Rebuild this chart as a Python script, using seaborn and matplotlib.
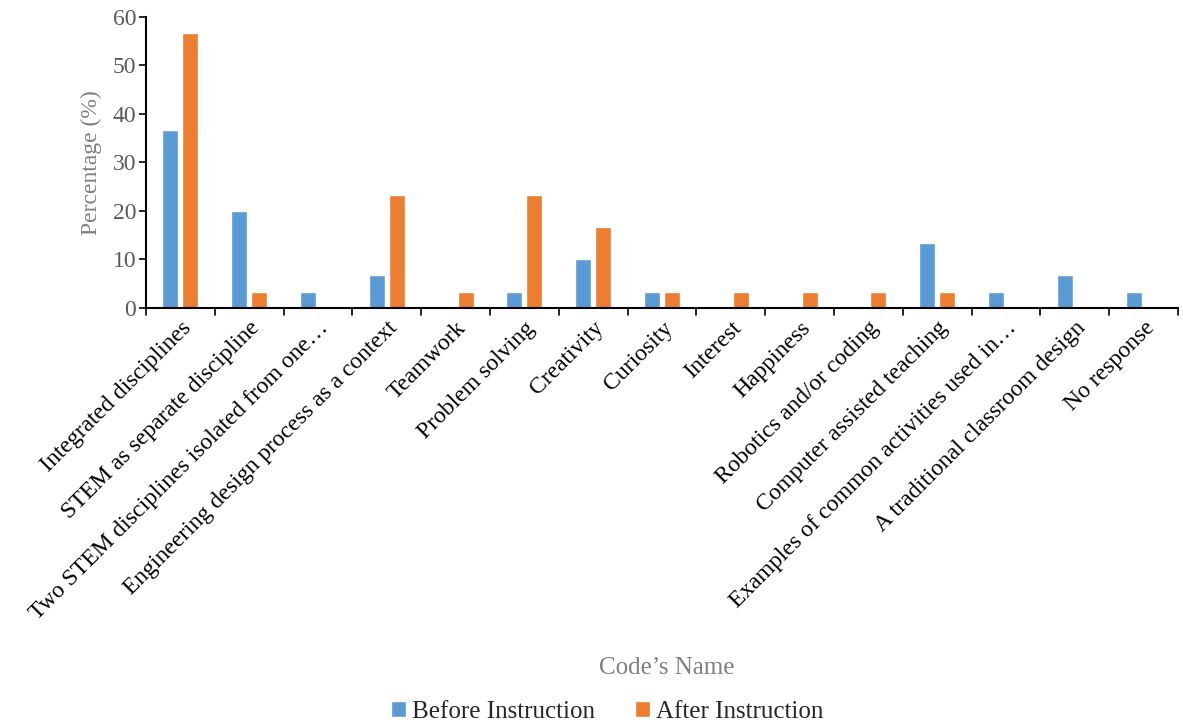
import matplotlib
matplotlib.use("Agg")
import matplotlib.pyplot as plt
import seaborn as sns
import pandas as pd

categories = [
    "Integrated disciplines",
    "STEM as separate discipline",
    "Two STEM disciplines isolated from one\u2026",
    "Engineering design process as a context",
    "Teamwork",
    "Problem solving",
    "Creativity",
    "Curiosity",
    "Interest",
    "Happiness",
    "Robotics and/or coding",
    "Computer assisted teaching",
    "Examples of common activities used in\u2026",
    "A traditional classroom design",
    "No response",
]
before_values = [36.7, 20.0, 3.3, 6.7, 0, 3.3, 10.0, 3.3, 0, 0, 0, 13.3, 3.3, 6.7, 3.3]
after_values = [56.7, 3.3, 0, 23.3, 3.3, 23.3, 16.7, 3.3, 3.3, 3.3, 3.3, 3.3, 0, 0, 0]
series_names = ["Before Instruction", "After Instruction"]
y_ticks = [0, 10, 20, 30, 40, 50, 60]

df = pd.DataFrame({
    "Code": categories * 2,
    "Percentage": before_values + after_values,
    "Series": [series_names[0]] * len(categories) + [series_names[1]] * len(categories),
})

sns.set_theme(style="white")
plt.rcParams["font.family"] = ["Liberation Serif", "DejaVu Serif"]

fig = plt.figure(figsize=(11.83, 7.26), dpi=100)
ax = fig.add_axes([0.1234, 0.5758, 0.8724, 0.4008])

palette = {series_names[0]: "#5B9BD5", series_names[1]: "#ED7D31"}
sns.barplot(data=df, x="Code", y="Percentage", hue="Series", palette=palette,
            width=0.58, gap=0.2, ax=ax, saturation=1, legend=True)

ax.set_ylim(0, 60)
ax.set_xlim(-0.5, len(categories) - 0.5)
ax.set_yticks(y_ticks)
ax.set_yticklabels([str(t) for t in y_ticks], color="#595959", fontsize=17)
ax.tick_params(axis="y", direction="out", length=5, width=1.2, color="black", pad=2, left=True)

ax.set_xticks([i for i in range(len(categories))])
ax.set_xticklabels(categories, rotation=45, ha="right", rotation_mode="anchor",
                   fontsize=17, color="black")
ax.tick_params(axis="x", length=0, pad=7)
# boundary ticks
for b in range(len(categories) + 1):
    ax.plot([b - 0.5, b - 0.5], [0, -1.5], color="black", lw=1.2, clip_on=False)

for s in ["top", "right"]:
    ax.spines[s].set_visible(False)
for s in ["left", "bottom"]:
    ax.spines[s].set_color("black")
    ax.spines[s].set_linewidth(1.5)

ax.set_ylabel("Percentage (%)", color="#7f7f7f", fontsize=17, labelpad=8)
ax.set_xlabel("")
fig.text(667 / 1183, 1 - 668 / 726, "Code\u2019s Name", ha="center", va="center",
         color="#7f7f7f", fontsize=18)

handles, labels = ax.get_legend_handles_labels()
if ax.legend_:
    ax.legend_.remove()
fig.legend(handles, labels, loc="center", bbox_to_anchor=(607 / 1183, 1 - 712 / 726), ncol=2,
           frameon=False, fontsize=18, handlelength=0.6, handleheight=0.6,
           handletextpad=0.25, columnspacing=1.6)

fig.savefig("out.png", dpi=100)
